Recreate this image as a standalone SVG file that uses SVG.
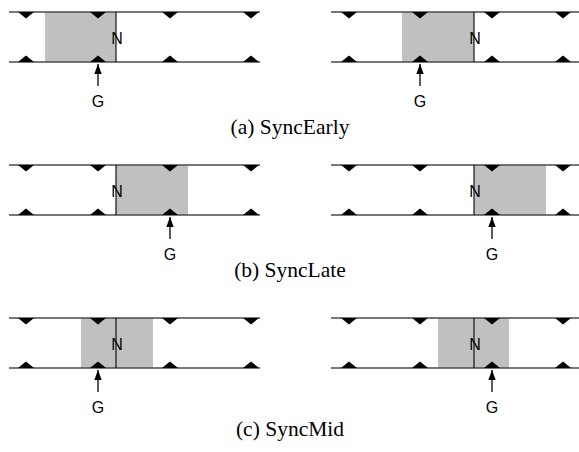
<svg xmlns="http://www.w3.org/2000/svg" width="579" height="452" viewBox="0 0 579 452">
  <style>
    .rail { stroke: #4a4a4a; stroke-width: 1.3; fill: none; }
    .win { fill: #c0c0c0; stroke: none; }
    .edge { stroke: #000; stroke-width: 1.1; }
    .tick { fill: #000; }
    .lbl { font-family: "Liberation Sans", Arial, sans-serif; font-size: 16px; fill: #000; text-anchor: middle; }
    .cap { font-family: "Liberation Serif", "Times New Roman", serif; font-size: 21.5px; fill: #000; text-anchor: middle; }
    .arr { stroke: #000; stroke-width: 1.3; }
  </style>
  <defs>
    <path id="tdown" class="tick" d="M-8,0 L8,0 L0,6.5 Z"/>
    <path id="tup" class="tick" d="M-8,0 L8,0 L0,-6.5 Z"/>
    <marker id="head" viewBox="0 0 10 8" refX="10" refY="4" markerWidth="10" markerHeight="8" orient="auto" markerUnits="userSpaceOnUse">
      <path d="M0,0.3 L10,4 L0,7.7 Z" fill="#000"/>
    </marker>
    <!-- left timeline: rails and clock ticks -->
    <g id="railL">
      <line class="rail" x1="9" y1="0" x2="260" y2="0"/>
      <line class="rail" x1="9" y1="50" x2="260" y2="50"/>
      <use href="#tdown" x="26" y="0"/><use href="#tdown" x="98" y="0"/><use href="#tdown" x="170" y="0"/><use href="#tdown" x="251" y="0"/>
      <use href="#tup" x="26" y="50"/><use href="#tup" x="98" y="50"/><use href="#tup" x="170" y="50"/><use href="#tup" x="251" y="50"/>
    </g>
    <!-- right timeline -->
    <g id="railR">
      <line class="rail" x1="331" y1="0" x2="579" y2="0"/>
      <line class="rail" x1="331" y1="50" x2="579" y2="50"/>
      <use href="#tdown" x="349" y="0"/><use href="#tdown" x="420" y="0"/><use href="#tdown" x="492" y="0"/><use href="#tdown" x="563" y="0"/>
      <use href="#tup" x="349" y="50"/><use href="#tup" x="420" y="50"/><use href="#tup" x="492" y="50"/><use href="#tup" x="563" y="50"/>
    </g>
  </defs>

  <!-- (a) SyncEarly -->
  <g id="syncEarlyLeft" transform="translate(0,12)">
    <rect class="win" x="45" y="0" width="71" height="50"/>
    <use href="#railL"/>
    <line class="edge" x1="116" y1="0" x2="116" y2="50"/>
    <text class="lbl" x="117" y="31.5">N</text>
    <line class="arr" x1="98" y1="74" x2="98" y2="52" marker-end="url(#head)"/>
    <text class="lbl" x="98" y="94.5">G</text>
  </g>
  <g id="syncEarlyRight" transform="translate(0,12)">
    <rect class="win" x="402" y="0" width="72" height="50"/>
    <use href="#railR"/>
    <line class="edge" x1="474" y1="0" x2="474" y2="50"/>
    <text class="lbl" x="475" y="31.5">N</text>
    <line class="arr" x1="420" y1="74" x2="420" y2="52" marker-end="url(#head)"/>
    <text class="lbl" x="420" y="94.5">G</text>
  </g>
  <text id="capA" class="cap" x="290" y="134">(a) SyncEarly</text>

  <!-- (b) SyncLate -->
  <g id="syncLateLeft" transform="translate(0,165)">
    <rect class="win" x="116" y="0" width="72" height="50"/>
    <use href="#railL"/>
    <line class="edge" x1="116" y1="0" x2="116" y2="50"/>
    <text class="lbl" x="117" y="31.5">N</text>
    <line class="arr" x1="170" y1="74" x2="170" y2="52" marker-end="url(#head)"/>
    <text class="lbl" x="170" y="94.5">G</text>
  </g>
  <g id="syncLateRight" transform="translate(0,165)">
    <rect class="win" x="474" y="0" width="72" height="50"/>
    <use href="#railR"/>
    <line class="edge" x1="474" y1="0" x2="474" y2="50"/>
    <text class="lbl" x="475" y="31.5">N</text>
    <line class="arr" x1="492" y1="74" x2="492" y2="52" marker-end="url(#head)"/>
    <text class="lbl" x="492" y="94.5">G</text>
  </g>
  <text id="capB" class="cap" x="290" y="277">(b) SyncLate</text>

  <!-- (c) SyncMid -->
  <g id="syncMidLeft" transform="translate(0,318)">
    <rect class="win" x="81" y="0" width="72" height="50"/>
    <use href="#railL"/>
    <line class="edge" x1="116" y1="0" x2="116" y2="50"/>
    <text class="lbl" x="117" y="31.5">N</text>
    <line class="arr" x1="98" y1="74" x2="98" y2="52" marker-end="url(#head)"/>
    <text class="lbl" x="98" y="94.5">G</text>
  </g>
  <g id="syncMidRight" transform="translate(0,318)">
    <rect class="win" x="438" y="0" width="71" height="50"/>
    <use href="#railR"/>
    <line class="edge" x1="474" y1="0" x2="474" y2="50"/>
    <text class="lbl" x="475" y="31.5">N</text>
    <line class="arr" x1="492" y1="74" x2="492" y2="52" marker-end="url(#head)"/>
    <text class="lbl" x="492" y="94.5">G</text>
  </g>
  <text id="capC" class="cap" x="290" y="436">(c) SyncMid</text>
</svg>
